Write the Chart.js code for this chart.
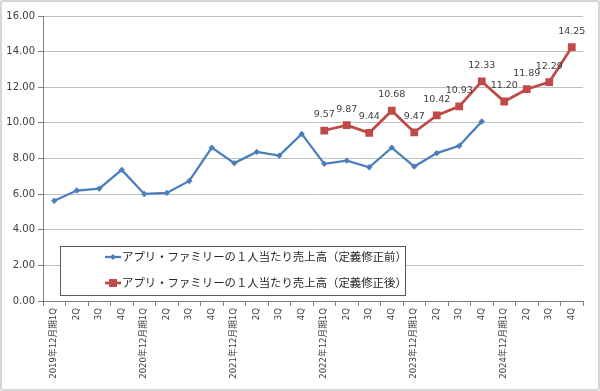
<!DOCTYPE html>
<html>
<head>
<meta charset="utf-8">
<script src="https://cdn.jsdelivr.net/npm/chart.js@4"></script>
<style>
  html, body { margin: 0; padding: 0; background: #fff; }
  #wrap {
    width: 600px; height: 391px; box-sizing: border-box;
    border: 2px solid #d6d6d6; border-radius: 3px; position: relative;
  }
</style>
</head>
<body>
<div id="wrap"><canvas id="salesChart"></canvas></div>
<script>
// quarters, 2019年12月期1Q .. 2024年12月期4Q
const categories = [
    '2019年12月期1Q', '2Q', '3Q', '4Q',
    '2020年12月期1Q', '2Q', '3Q', '4Q',
    '2021年12月期1Q', '2Q', '3Q', '4Q',
    '2022年12月期1Q', '2Q', '3Q', '4Q',
    '2023年12月期1Q', '2Q', '3Q', '4Q',
    '2024年12月期1Q', '2Q', '3Q', '4Q'
];

// 定義修正前 (no labels in original)
const beforeValues = [
    5.63, 6.20, 6.31, 7.36,
    6.01, 6.07, 6.74, 8.61,
    7.74, 8.37, 8.16, 9.38,
    7.70, 7.88, 7.51, 8.61,
    7.55, 8.30, 8.71, 10.08,
    null, null, null, null
];

// 定義修正後 (starts 2022年12月期1Q)
const afterValues = [
    null, null, null, null,
    null, null, null, null,
    null, null, null, null,
    9.57, 9.87, 9.44, 10.68,
    9.47, 10.42, 10.93, 12.33,
    11.20, 11.89, 12.29, 14.25
];

const seriesNames = [
    'アプリ・ファミリーの１人当たり売上高（定義修正前）',
    'アプリ・ファミリーの１人当たり売上高（定義修正後）'
];

const yTicks = [0, 2, 4, 6, 8, 10, 12, 14, 16];

const numFont = "'DejaVu Sans', 'Noto Sans CJK JP', sans-serif";

// value labels above the red points
const valueLabels = {
    id: 'valueLabels',
    afterDatasetsDraw(chart) {
        const ctx = chart.ctx;
        const meta = chart.getDatasetMeta(1);
        ctx.save();
        ctx.font = "9.5px " + numFont;
        ctx.fillStyle = '#404040';
        ctx.textAlign = 'center';
        ctx.textBaseline = 'middle';
        meta.data.forEach(function (pt, i) {
            const v = afterValues[i];
            if (v == null) return;
            ctx.fillText(v.toFixed(2), pt.x, pt.y - 16);
        });
        ctx.restore();
    }
};

// boxed legend in the lower left of the plot
const boxLegend = {
    id: 'boxLegend',
    afterDraw(chart) {
        const ctx = chart.ctx;
        const a = chart.chartArea;
        const x = a.left + 17, w = 345;
        const y = a.bottom - 55, h = 49;
        ctx.save();
        ctx.fillStyle = '#fff';
        ctx.fillRect(x, y, w, h);
        ctx.strokeStyle = '#595959';
        ctx.lineWidth = 1;
        ctx.strokeRect(x + 0.5, y + 0.5, w, h);
        ctx.font = "11.4px 'Noto Sans CJK JP', sans-serif";
        ctx.textBaseline = 'middle';
        chart.data.datasets.forEach(function (ds, i) {
            const ly = y + 11 + i * 26;
            const lx = x + 45;
            ctx.strokeStyle = ds.borderColor;
            ctx.lineWidth = ds.borderWidth;
            ctx.beginPath();
            ctx.moveTo(lx, ly);
            ctx.lineTo(lx + 16, ly);
            ctx.stroke();
            ctx.fillStyle = ds.pointBackgroundColor;
            ctx.beginPath();
            if (i === 0) {
                ctx.moveTo(lx + 8, ly - 3);
                ctx.lineTo(lx + 11, ly);
                ctx.lineTo(lx + 8, ly + 3);
                ctx.lineTo(lx + 5, ly);
            } else {
                ctx.rect(lx + 4, ly - 4, 8, 8);
            }
            ctx.fill();
            ctx.fillStyle = '#262626';
            ctx.fillText(ds.label, lx + 17, ly);
        });
        ctx.restore();
    }
};

const ctx = document.getElementById('salesChart').getContext('2d');
new Chart(ctx, {
    type: 'line',
    data: {
        labels: categories,
        datasets: [{
            label: seriesNames[0],
            data: beforeValues,
            borderColor: '#4a7ebb',
            backgroundColor: '#4a7ebb',
            pointBackgroundColor: '#4a7ebb',
            pointBorderColor: '#4a7ebb',
            pointBorderWidth: 0,
            pointStyle: 'rectRot',
            pointRadius: 3.2,
            borderWidth: 2.25,
            tension: 0
        }, {
            label: seriesNames[1],
            data: afterValues,
            borderColor: '#be4b48',
            backgroundColor: '#be4b48',
            pointBackgroundColor: '#be4b48',
            pointBorderColor: '#be4b48',
            pointBorderWidth: 0,
            pointStyle: 'rect',
            pointRadius: 5.5,
            borderWidth: 2.75,
            tension: 0
        }]
    },
    options: {
        responsive: true,
        maintainAspectRatio: false,
        animation: false,
        layout: {
            padding: { top: 14, right: 15, left: 0, bottom: 0 }
        },
        scales: {
            x: {
                offset: true,
                grid: {
                    offset: true,
                    drawOnChartArea: false,
                    tickLength: 5,
                    color: '#7f7f7f'
                },
                border: { color: '#7f7f7f', width: 1 },
                ticks: {
                    autoSkip: false,
                    minRotation: 90,
                    maxRotation: 90,
                    padding: 2,
                    color: '#404040',
                    font: { family: numFont, size: 8.6 }
                },
                afterFit(scale) { scale.height = 88; }
            },
            y: {
                min: 0,
                max: 16,
                afterBuildTicks(scale) {
                    scale.ticks = yTicks.map(function (v) { return { value: v }; });
                },
                grid: {
                    color: '#bfbfbf',
                    tickColor: '#7f7f7f',
                    tickLength: 5
                },
                border: { color: '#7f7f7f', width: 1 },
                ticks: {
                    padding: 3,
                    color: '#404040',
                    font: { family: numFont, size: 10 },
                    callback: function (v) { return Number(v).toFixed(2); }
                },
                afterFit(scale) { scale.width = 41; }
            }
        },
        plugins: {
            legend: { display: false },
            tooltip: { enabled: false }
        }
    },
    plugins: [valueLabels, boxLegend]
});
</script>
</body>
</html>
